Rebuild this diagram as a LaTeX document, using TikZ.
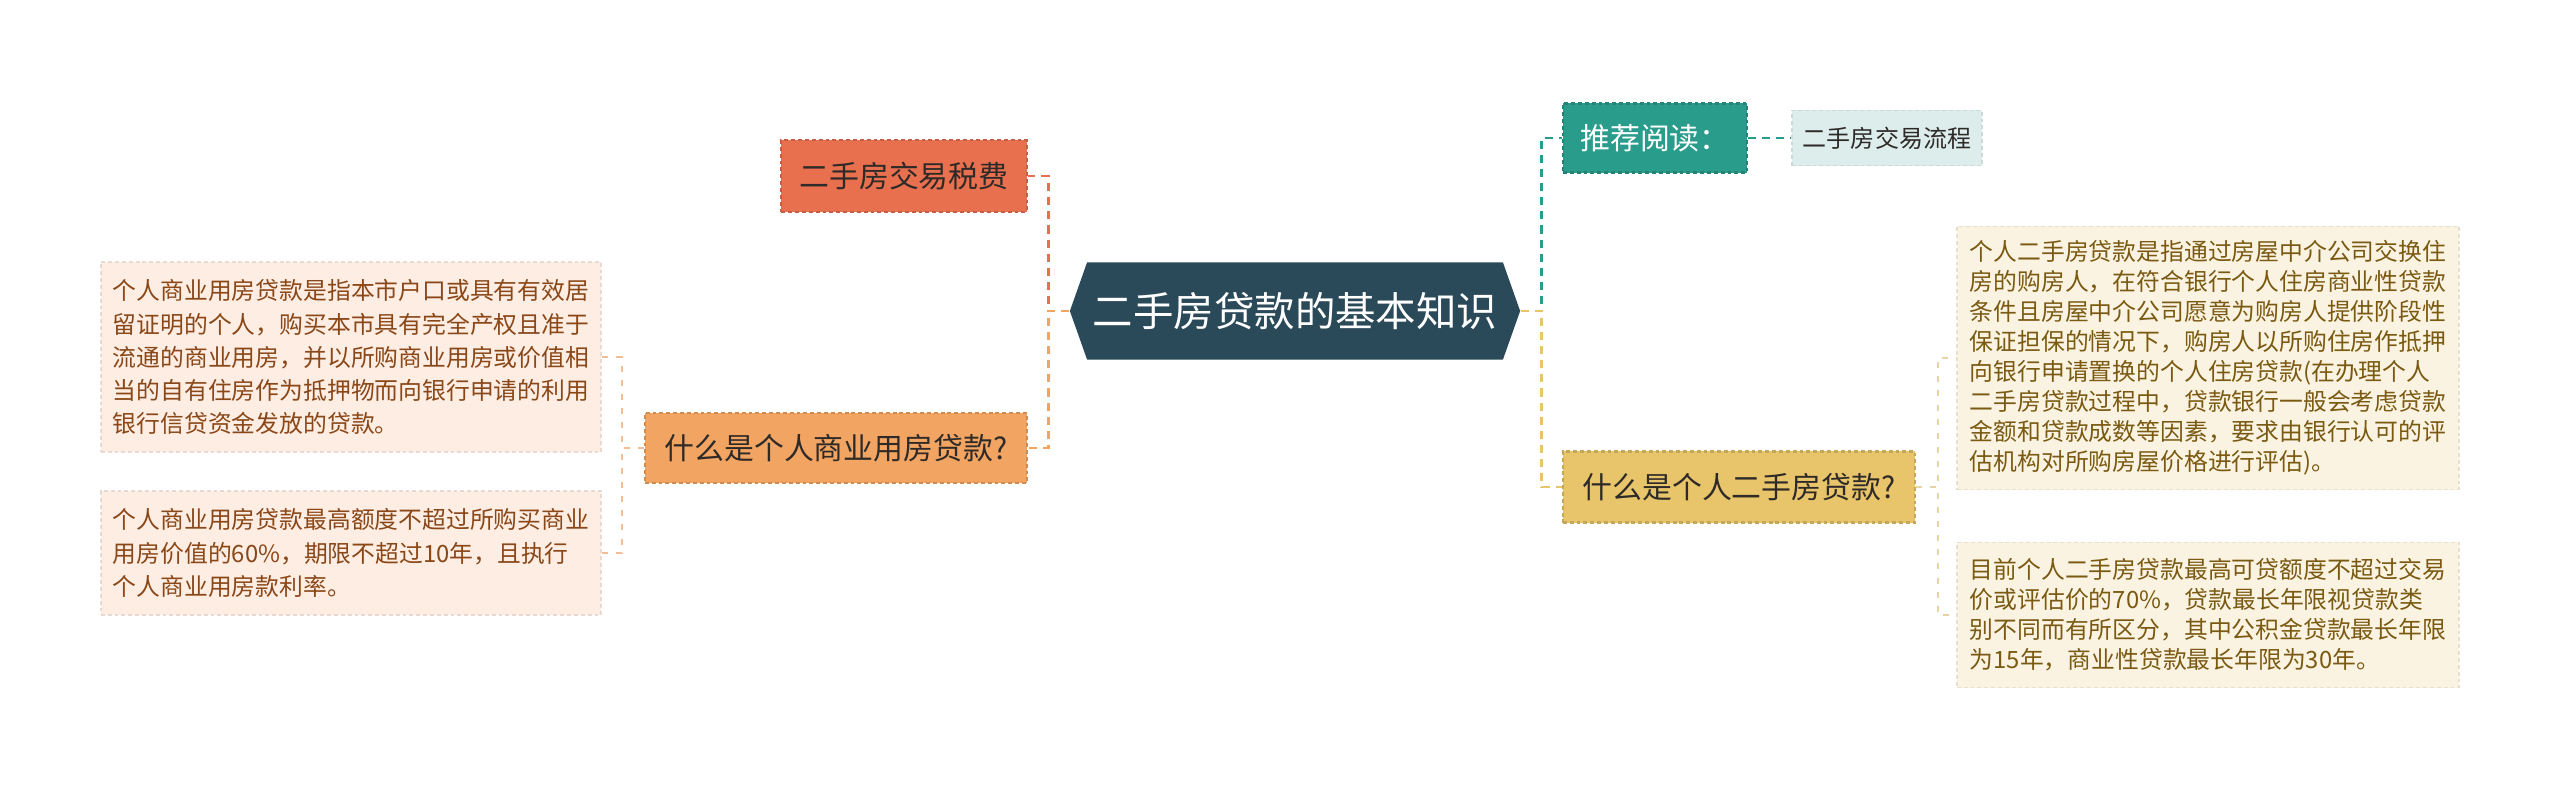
\documentclass[tikz,border=0pt]{standalone}
\usepackage{fontspec}
\setmainfont{Noto Sans CJK SC}
\usepackage{tikz}
\usetikzlibrary{shapes.symbols, positioning}
\definecolor{rootcol}{HTML}{2B4A59}
\definecolor{taxcol}{HTML}{E8704F}
\definecolor{comcol}{HTML}{F2A562}
\definecolor{tealcol}{HTML}{2A9C8C}
\definecolor{leafcol}{HTML}{DCEDEC}
\definecolor{yelcol}{HTML}{E8C46A}
\definecolor{lboxcol}{HTML}{FDEDE3}
\definecolor{rboxcol}{HTML}{FBF3E1}
\definecolor{ltext}{HTML}{8A4718}
\definecolor{rtext}{HTML}{7A5A12}
\definecolor{textdark}{HTML}{2E2A28}
\definecolor{lboxlink}{HTML}{F2BE98}
\definecolor{rboxlink}{HTML}{E6D4A4}

\begin{document}
\begin{tikzpicture}[
    x=0.01cm, y=-0.01cm,
    topic/.style={rectangle, fill=#1, draw=#1!85!black, line width=0.6pt,
                  dash pattern=on 1.1pt off 0.85pt, inner sep=0pt,
                  font=\fontsize{8.5pt}{10pt}\selectfont, text=textdark},
    note/.style={rectangle, fill=#1, draw=#1!92!black, line width=0.5pt,
                 dash pattern=on 1.1pt off 0.85pt, inner sep=0pt, align=left},
    link/.style={draw=#1, line width=0.85pt, dash pattern=on 2.3pt off 1.7pt},
    thinlink/.style={draw=#1, line width=0.55pt, dash pattern=on 1.7pt off 2.3pt},
]
    \fill[white] (0,0) rectangle (2560,791);

    % Central topic
    \node[signal, signal to=east and west, signal pointer angle=141,
          fill=rootcol, minimum width=4.5cm, minimum height=0.97cm, inner sep=0pt,
          text=white, font=\fontsize{11.5pt}{14pt}\selectfont] (root) at (1295,311) {二手房贷款的基本知识};

    % Left branches
    \node[topic=taxcol, minimum width=2.45cm, minimum height=0.72cm] (tax) at (904,176) {二手房交易税费};
    \node[topic=comcol, minimum width=3.82cm, minimum height=0.70cm] (comq) at (836,448) {什么是个人商业用房贷款?};

    \node[note=lboxcol, text=ltext, minimum width=5cm, minimum height=1.9cm,
          font=\fontsize{6.77pt}{9.4pt}\selectfont] (lbox1) at (351,357)
        {个人商业用房贷款是指本市户口或具有有效居\\留证明的个人，购买本市具有完全产权且准于\\流通的商业用房，并以所购商业用房或价值相\\当的自有住房作为抵押物而向银行申请的利用\\银行信贷资金发放的贷款。};
    \node[note=lboxcol, text=ltext, minimum width=5cm, minimum height=1.24cm,
          font=\fontsize{6.77pt}{9.4pt}\selectfont] (lbox2) at (351,553)
        {个人商业用房贷款最高额度不超过所购买商业\\用房价值的60\%，期限不超过10年，且执行\\个人商业用房款利率。};

    % Right branches
    \node[topic=tealcol, text=white, minimum width=1.84cm, minimum height=0.69cm] (rec) at (1655,138) {推荐阅读：};
    \node[note=leafcol, text=textdark, minimum width=1.9cm, minimum height=0.55cm,
          font=\fontsize{6.83pt}{8pt}\selectfont] (leaf) at (1887,138) {二手房交易流程};
    \node[topic=yelcol, minimum width=3.52cm, minimum height=0.71cm] (yq) at (1739,487) {什么是个人二手房贷款?};

    \node[note=rboxcol, text=rtext, minimum width=5.02cm, minimum height=2.63cm,
          font=\fontsize{6.77pt}{8.54pt}\selectfont] (rbox1) at (2208,358)
        {个人二手房贷款是指通过房屋中介公司交换住\\房的购房人，在符合银行个人住房商业性贷款\\条件且房屋中介公司愿意为购房人提供阶段性\\保证担保的情况下，购房人以所购住房作抵押\\向银行申请置换的个人住房贷款(在办理个人\\二手房贷款过程中，贷款银行一般会考虑贷款\\金额和贷款成数等因素，要求由银行认可的评\\估机构对所购房屋价格进行评估)。};
    \node[note=rboxcol, text=rtext, minimum width=5.02cm, minimum height=1.45cm,
          font=\fontsize{6.77pt}{8.54pt}\selectfont] (rbox2) at (2208,615)
        {目前个人二手房贷款最高可贷额度不超过交易\\价或评估价的70\%，贷款最长年限视贷款类\\别不同而有所区分，其中公积金贷款最长年限\\为15年，商业性贷款最长年限为30年。};

    % Connectors
    \draw[link=taxcol] (root.west) -- ++(-21,0) |- (tax.east);
    \draw[link=comcol] (root.west) -- ++(-21,0) |- (comq.east);
    \draw[thinlink=lboxlink] (comq.west) -- ++(-22,0) |- (lbox1.east);
    \draw[thinlink=lboxlink] (comq.west) -- ++(-22,0) |- (lbox2.east);

    \draw[link=tealcol] (root.east) -- ++(21,0) |- (rec.west);
    \draw[link=yelcol] (root.east) -- ++(21,0) |- (yq.west);
    \draw[link=tealcol] (rec.east) -- (leaf.west);
    \draw[thinlink=rboxlink] (yq.east) -- ++(22,0) |- (rbox1.west);
    \draw[thinlink=rboxlink] (yq.east) -- ++(22,0) |- (rbox2.west);
\end{tikzpicture}
\end{document}
